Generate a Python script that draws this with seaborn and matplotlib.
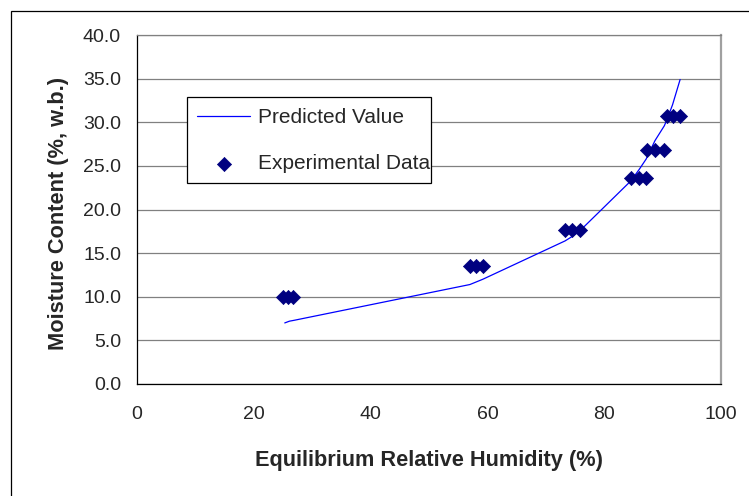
import matplotlib
matplotlib.use("Agg")
import matplotlib.pyplot as plt
import matplotlib.patches as mpatches
from matplotlib.ticker import FormatStrFormatter
import seaborn as sns
import pandas as pd

# Experimental sorption data (equilibrium relative humidity vs. moisture content)
rh_exp = [25.0, 25.9, 26.7, 57.0, 58.1, 59.2, 73.3, 74.5, 75.9,
          84.6, 86.0, 87.2, 87.4, 88.7, 90.3, 90.8, 91.7, 93.0]
mc_exp = [10.0, 10.0, 10.0, 13.5, 13.5, 13.5, 17.6, 17.6, 17.6,
          23.6, 23.6, 23.6, 26.8, 26.8, 26.8, 30.7, 30.7, 30.7]

# Model prediction
rh_pred = [25.3, 26.1, 26.9, 57.0, 58.1, 59.2, 73.3, 74.5, 75.9,
           84.6, 86.0, 87.2, 87.4, 88.7, 90.3, 90.8, 91.7, 93.0]
mc_pred = [7.0, 7.2, 7.3, 11.4, 11.7, 12.0, 16.4, 16.9, 17.6,
           23.3, 24.6, 25.8, 26.1, 27.9, 29.6, 30.4, 32.0, 34.9]

x_ticks = [0, 20, 40, 60, 80, 100]
y_ticks = [0, 5, 10, 15, 20, 25, 30, 35, 40]

exp_df = pd.DataFrame({"rh": rh_exp, "mc": mc_exp})
pred_df = pd.DataFrame({"rh": rh_pred, "mc": mc_pred})

sns.set_style("white")
plt.rcParams["font.family"] = ["Liberation Sans", "DejaVu Sans"]

W, H = 749, 496
fig = plt.figure(figsize=(W / 100, H / 100), dpi=100)
ax = fig.add_axes([137 / W, 1 - 384 / H, 584 / W, 349 / H])

sns.lineplot(data=pred_df, x="rh", y="mc", ax=ax, color="#0000FF",
             linewidth=0.9, sort=False, estimator=None,
             label="Predicted Value", zorder=3)
sns.scatterplot(data=exp_df, x="rh", y="mc", ax=ax, marker="D",
                color="#000080", edgecolor="#000080", s=52, linewidth=0.5,
                label="Experimental Data", zorder=4)

ax.set_xlim(0, 100)
ax.set_ylim(0, 40)
ax.set_xticks(x_ticks)
ax.set_yticks(y_ticks)
ax.yaxis.set_major_formatter(FormatStrFormatter("%.1f"))

# Horizontal gridlines only
ax.yaxis.grid(True, color="#808080", linewidth=0.9)
ax.xaxis.grid(False)
ax.set_axisbelow(True)

for side in ("left", "bottom"):
    ax.spines[side].set_color("#000000")
    ax.spines[side].set_linewidth(0.9)
ax.spines["top"].set_color("#808080")
ax.spines["top"].set_linewidth(0.9)
ax.spines["right"].set_color("#A0A0A0")
ax.spines["right"].set_linewidth(1.6)

ax.tick_params(axis="both", which="major", direction="out", length=4.5,
               width=0.9, color="#000000", labelsize=14)
ax.tick_params(axis="x", pad=11)
ax.tick_params(axis="y", pad=7)

ax.set_xlabel("Equilibrium Relative Humidity (%)", fontsize=15.7,
              fontweight="bold")
ax.set_ylabel("Moisture Content (%, w.b.)", fontsize=15.7,
              fontweight="bold")
ax.xaxis.set_label_coords(0.5, -0.19)
ax.yaxis.set_label_coords(-0.117, 0.49)

# Legend box drawn as a plain rectangle, entries placed inside it
legend_box = mpatches.Rectangle((187 / W, 1 - 183 / H), 244 / W, 86 / H,
                                transform=fig.transFigure, facecolor="white",
                                edgecolor="#000000", linewidth=0.9,
                                zorder=5, clip_on=False)
ax.add_patch(legend_box)

leg = ax.legend(loc="upper left", bbox_to_anchor=(197 / W, 1 - 108 / H),
                bbox_transform=fig.transFigure, frameon=False,
                fontsize=15, borderpad=0.0, labelspacing=1.3,
                handlelength=2.55, handletextpad=0.4, borderaxespad=0.0)
leg.set_zorder(6)

# Outer chart frame
fig.patches.append(mpatches.Rectangle((11 / W, -0.05), 1.2, 1 - 11 / H + 0.05,
                                      transform=fig.transFigure, fill=False,
                                      edgecolor="#000000", linewidth=0.9))

fig.savefig("out.png", dpi=100, facecolor="white")
